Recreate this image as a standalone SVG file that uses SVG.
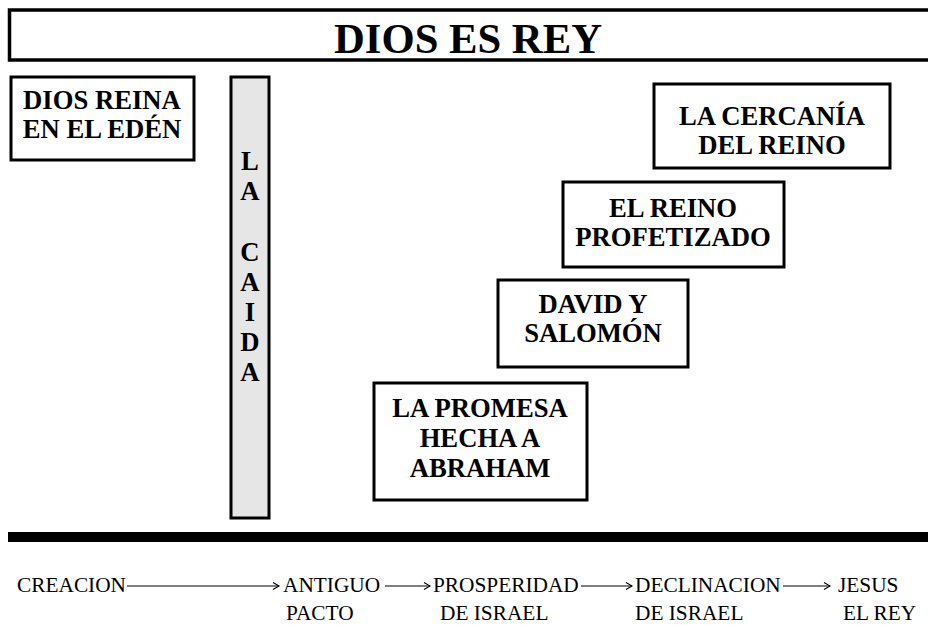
<svg xmlns="http://www.w3.org/2000/svg" width="928" height="625" viewBox="0 0 928 625">
<style>
.box{fill:#fff;stroke:#000;stroke-width:3}
.bt{font-family:"Liberation Serif","Times New Roman",serif;font-weight:bold;font-size:26.67px;fill:#000;text-anchor:middle}
.tl{font-family:"Liberation Serif","Times New Roman",serif;font-size:21.33px;fill:#000}
.arr{stroke:#000;stroke-width:1.1;fill:none}
</style>
<defs>
<marker id="ah" markerWidth="10" markerHeight="10" refX="8" refY="5" orient="auto" markerUnits="userSpaceOnUse">
<path d="M2,1.5 L8,5 L2,8.5" fill="none" stroke="#000" stroke-width="1.1"/>
</marker>
</defs>
<rect width="928" height="625" fill="#fff"/>
<g id="title">
<rect x="9.5" y="10" width="925" height="50" fill="#fff" stroke="#000" stroke-width="3.5"/>
<text x="468" y="53" class="bt" style="font-size:42.67px">DIOS ES REY</text>
</g>
<g id="eden">
<rect class="box" x="11" y="77" width="183" height="83"/>
<text class="bt" x="102" y="109">DIOS REINA</text>
<text class="bt" x="102" y="138">EN EL EDÉN</text>
</g>
<g id="caida">
<rect x="231" y="77" width="38" height="441" fill="#e6e6e6" stroke="#000" stroke-width="3"/>
<text class="bt" x="250" y="170">L</text>
<text class="bt" x="250" y="200">A</text>
<text class="bt" x="250" y="261">C</text>
<text class="bt" x="250" y="291">A</text>
<text class="bt" x="250" y="321">I</text>
<text class="bt" x="250" y="351">D</text>
<text class="bt" x="250" y="381">A</text>
</g>
<g id="abraham">
<rect class="box" x="374" y="383" width="213" height="117"/>
<text class="bt" x="480" y="417">LA PROMESA</text>
<text class="bt" x="480" y="447">HECHA A</text>
<text class="bt" x="480" y="477">ABRAHAM</text>
</g>
<g id="david">
<rect class="box" x="498" y="280" width="190" height="87"/>
<text class="bt" x="593" y="313">DAVID Y</text>
<text class="bt" x="593" y="342">SALOMÓN</text>
</g>
<g id="profetizado">
<rect class="box" x="563" y="182" width="221" height="85"/>
<text class="bt" x="673" y="217">EL REINO</text>
<text class="bt" x="673" y="246">PROFETIZADO</text>
</g>
<g id="cercania">
<rect class="box" x="654" y="84" width="236" height="84"/>
<text class="bt" x="772" y="125">LA CERCANÍA</text>
<text class="bt" x="772" y="154">DEL REINO</text>
</g>
<rect x="8" y="532" width="920" height="10" fill="#000"/>
<g id="timeline">
<text class="tl" x="17" y="592">CREACION</text>
<text class="tl" x="283" y="592">ANTIGUO</text>
<text class="tl" x="286" y="620">PACTO</text>
<text class="tl" x="433" y="592">PROSPERIDAD</text>
<text class="tl" x="440" y="620">DE ISRAEL</text>
<text class="tl" x="635" y="592">DECLINACION</text>
<text class="tl" x="635" y="620">DE ISRAEL</text>
<text class="tl" x="838" y="592">JESUS</text>
<text class="tl" x="843" y="620">EL REY</text>
</g>
<g id="connectors">
<line class="arr" x1="127" y1="586" x2="279" y2="586" marker-end="url(#ah)"/>
<line class="arr" x1="385" y1="586" x2="430" y2="586" marker-end="url(#ah)"/>
<line class="arr" x1="581" y1="586" x2="632" y2="586" marker-end="url(#ah)"/>
<line class="arr" x1="783" y1="586" x2="830" y2="586" marker-end="url(#ah)"/>
</g>
</svg>
